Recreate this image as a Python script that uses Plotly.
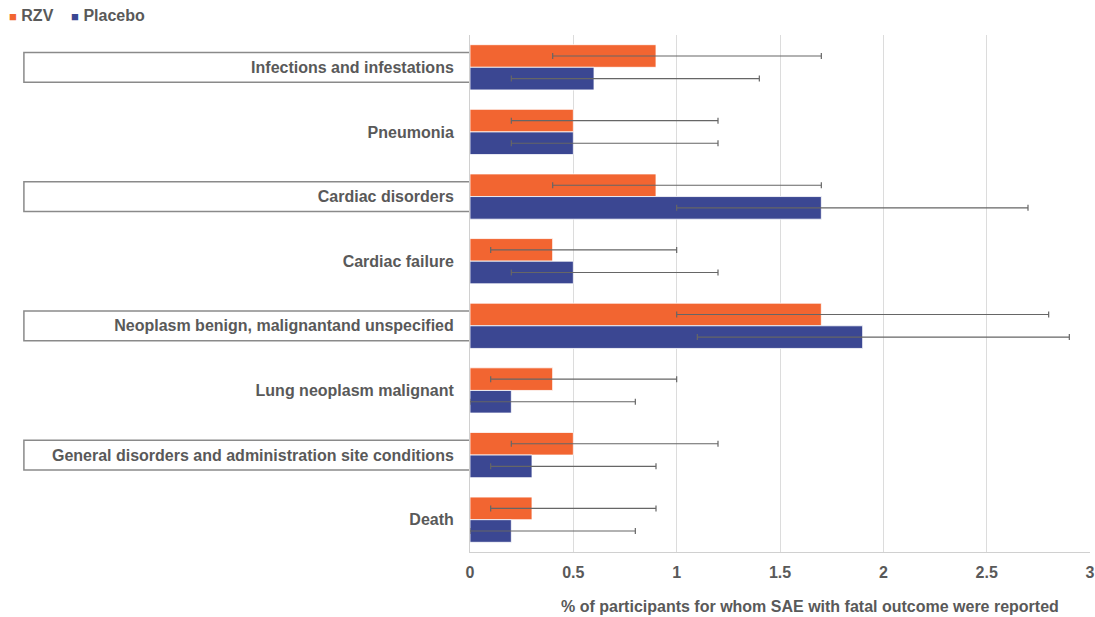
import plotly.graph_objects as go

categories = [
    "Infections and infestations",
    "Pneumonia",
    "Cardiac disorders",
    "Cardiac failure",
    "Neoplasm benign, malignantand unspecified",
    "Lung neoplasm malignant",
    "General disorders and administration site conditions",
    "Death",
]
boxed = [True, False, True, False, True, False, True, False]

rzv_value = [0.9, 0.5, 0.9, 0.4, 1.7, 0.4, 0.5, 0.3]
rzv_lower = [0.4, 0.2, 0.4, 0.1, 1.0, 0.1, 0.2, 0.1]
rzv_upper = [1.7, 1.2, 1.7, 1.0, 2.8, 1.0, 1.2, 0.9]

placebo_value = [0.6, 0.5, 1.7, 0.5, 1.9, 0.2, 0.3, 0.2]
placebo_lower = [0.2, 0.2, 1.0, 0.2, 1.1, 0.0, 0.1, 0.0]
placebo_upper = [1.4, 1.2, 2.7, 1.2, 2.9, 0.8, 0.9, 0.8]

series_names = ["RZV", "Placebo"]
x_ticks = [0, 0.5, 1, 1.5, 2, 2.5, 3]
x_ticklabels = ["0", "0.5", "1", "1.5", "2", "2.5", "3"]
x_title = "% of participants for whom SAE with fatal outcome were reported"

ORANGE = "#F26531"
BLUE = "#3B4792"
TXT = "#595959"
FONT = "Liberation Sans"
FS = 16

def err(vals, lo, hi):
    return dict(
        type="data",
        symmetric=False,
        array=[h - v for v, h in zip(vals, hi)],
        arrayminus=[v - l for v, l in zip(vals, lo)],
        color="#666666",
        thickness=1.2,
        width=3,
    )

fig = go.Figure()
fig.add_trace(go.Bar(
    name=series_names[0], y=categories, x=rzv_value, orientation="h",
    marker=dict(color=ORANGE, line=dict(color="white", width=0.8)),
    error_x=err(rzv_value, rzv_lower, rzv_upper),
))
fig.add_trace(go.Bar(
    name=series_names[1], y=categories, x=placebo_value, orientation="h",
    marker=dict(color=BLUE, line=dict(color="white", width=0.8)),
    error_x=err(placebo_value, placebo_lower, placebo_upper),
))

shapes = []
for i, b in enumerate(boxed):
    if b:
        shapes.append(dict(
            type="rect", xref="paper", yref="y",
            x0=-0.7195, x1=0, y0=i - 0.23, y1=i + 0.23,
            line=dict(color="#8a8a8a", width=1.5), fillcolor="rgba(0,0,0,0)",
            layer="below",
        ))

legend_text = (
    "<span style='font-size:13px;color:%s'>■</span> <b>%s</b>"
    "&nbsp;&nbsp;&nbsp;&nbsp;<span style='font-size:13px;color:%s'>■</span> <b>%s</b>"
    % (ORANGE, series_names[0], BLUE, series_names[1])
)

fig.update_layout(
    width=1095, height=617,
    margin=dict(l=470, r=5, t=35, b=65, autoexpand=False),
    plot_bgcolor="white", paper_bgcolor="white",
    barmode="group", bargap=0.3, bargroupgap=0.0,
    font=dict(family=FONT, color=TXT, size=FS),
    showlegend=False,
    shapes=shapes,
    annotations=[
        dict(
            text="<b>%s</b>" % x_title, xref="paper", yref="paper",
            x=0.548, y=-0.106, xanchor="center", yanchor="middle",
            showarrow=False, font=dict(size=FS, color=TXT),
        ),
        dict(
            text=legend_text, xref="paper", yref="paper",
            x=-0.747, y=1.0368, xanchor="left", yanchor="middle",
            showarrow=False, font=dict(size=FS, color=TXT),
        ),
    ],
    xaxis=dict(
        range=[0, 3], tickvals=x_ticks, ticktext=["<b>%s</b>" % t for t in x_ticklabels],
        showgrid=True, gridcolor="#dcdcdc", gridwidth=1,
        zeroline=False, showline=True, linecolor="#d0d0d0",
        ticks="", ticklabelstandoff=6, tickfont=dict(size=FS, color=TXT),
        fixedrange=True,
    ),
    yaxis=dict(
        autorange="reversed", showgrid=False, showline=True, linecolor="#d0d0d0",
        tickmode="array", tickvals=list(range(len(categories))),
        ticktext=["<b>%s</b>" % c for c in categories],
        ticks="", ticklabelstandoff=12, tickfont=dict(size=FS, color=TXT),
        fixedrange=True,
    ),
)

fig.write_html(
    "out.html",
    config={"displayModeBar": False},
    post_script="document.body.style.margin='0';document.body.style.overflow='hidden';",
)
